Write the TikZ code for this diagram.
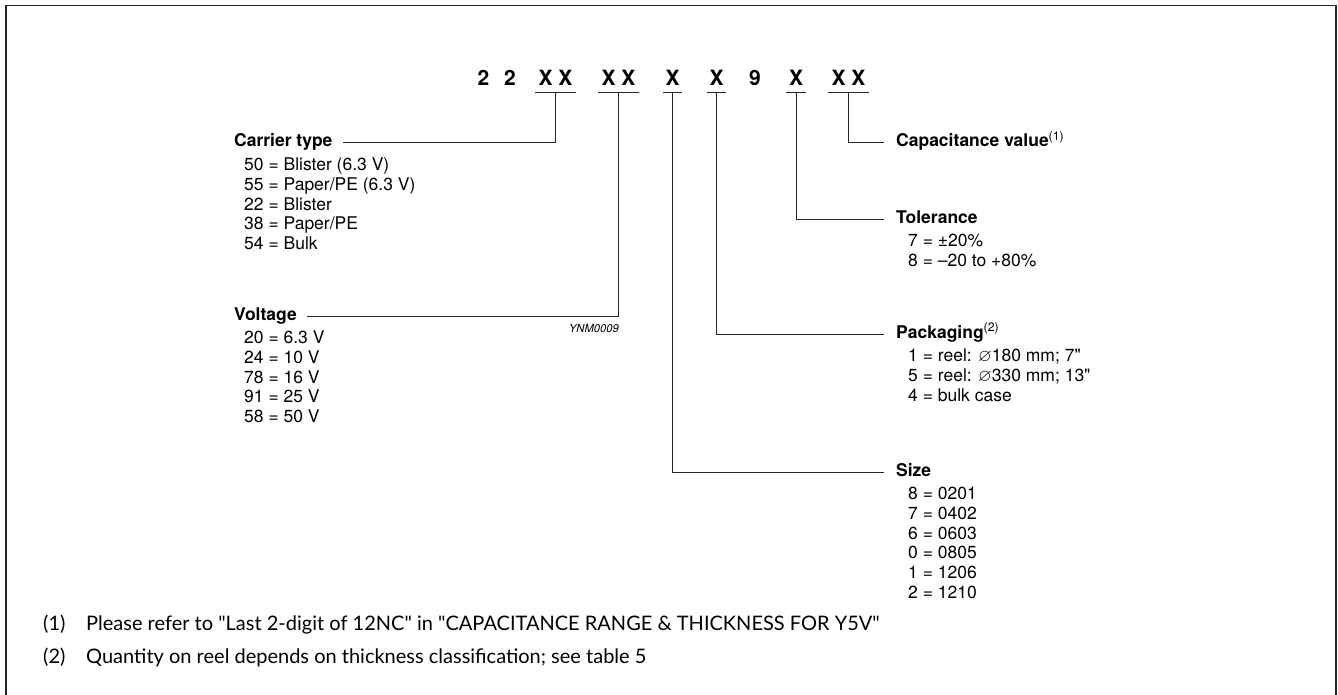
\documentclass[tikz,border=0pt]{standalone}
\usepackage{fontspec}
\usepackage{amssymb}
\setmainfont{TeX Gyre Heros}
\newfontfamily\notefont{Lato}
\usetikzlibrary{positioning}

\begin{document}
\begin{tikzpicture}[
    x=1pt, y=-1pt,
    code/.style={font=\bfseries\fontsize{21}{24}\selectfont, inner sep=0pt,
                 anchor=base, text depth=6pt},
    pair/.style={code, minimum width=41pt},
    single/.style={code, minimum width=19pt},
    head/.style={font=\bfseries\fontsize{17.5}{19.7}\selectfont, inner sep=0pt,
                 anchor=base west, text height=12pt, text depth=4pt},
    items/.style={font=\fontsize{17.5}{19.7}\selectfont, inner sep=0pt, align=left},
    wire/.style={draw=black!85, line width=1pt},
    note/.style={font=\notefont\fontsize{20}{22}\selectfont, inner sep=0pt, anchor=base west}
]
\useasboundingbox (0,0) rectangle (1338,695);

% Marco
\draw[line width=1.5pt, black!85] (6,695) -- (6,5.5) -- (1336,5.5) -- (1336,695);

% Codigo
\node[code] (n2a) at (483.5,86) {2};
\node[code] (n2b) at (510,86) {2};
\node[pair] (ncar) at (555.5,86) {X X};
\node[pair] (nvol) at (618.5,86) {X X};
\node[single] (nsiz) at (672.5,86) {X};
\node[single] (npak) at (716.5,86) {X};
\node[code] (n9) at (755,86) {9};
\node[single] (ntol) at (796,86) {X};
\node[pair] (ncap) at (848.5,86) {X X};

% Subrayados
\draw[wire] (ncar.south west) -- (ncar.south east);
\draw[wire] (nvol.south west) -- (nvol.south east);
\draw[wire] (nsiz.south west) -- (nsiz.south east);
\draw[wire] (npak.south west) -- (npak.south east);
\draw[wire] (ntol.south west) -- (ntol.south east);
\draw[wire] (ncap.south west) -- (ncap.south east);

% Lado izquierdo
\node[head] (car) at (234,147) {Carrier type};
\node[items, below right=5.7pt and 10pt of car.south west] (carl)
    {\strut 50 = Blister (6.3 V)\\55 = Paper/PE (6.3 V)\\22 = Blister\\38 = Paper/PE\\54 = Bulk};

\node[head] (vol) at (234,320) {Voltage};
\node[items, below right=5.7pt and 10pt of vol.south west] (voll)
    {\strut 20 = 6.3 V\\24 = 10 V\\78 = 16 V\\91 = 25 V\\58 = 50 V};

\node[font=\itshape\fontsize{11.2}{13}\selectfont, inner sep=0pt, anchor=base east] (ynm) at (619,332) {YNM0009};

% Lado derecho
\node[head] (cap) at (896,147) {Capacitance value\textsuperscript{\mdseries(1)}};

\node[head] (tol) at (896,223) {Tolerance};
\node[items, below right=5.7pt and 12pt of tol.south west] (toll)
    {\strut 7 = \textpm20\%\\8 = --20 to +80\%};

\node[head] (pak) at (896,338) {Packaging\textsuperscript{\mdseries(2)}};
\node[items, below right=5.7pt and 12pt of pak.south west] (pakl)
    {\strut 1 = reel: $\varnothing$180 mm; 7\textquotedbl\\5 = reel: $\varnothing$330 mm; 13\textquotedbl\\4 = bulk case};

\node[head] (siz) at (896,476) {Size};
\node[items, below right=5.7pt and 12pt of siz.south west] (sizl)
    {\strut 8 = 0201\\7 = 0402\\6 = 0603\\0 = 0805\\1 = 1206\\2 = 1210};

% Lineas
\draw[wire] (ncar.south) |- ([xshift=10pt]car.east);
\draw[wire] (nvol.south) |- ([xshift=10pt]vol.east);
\draw[wire] (ncap.south) |- ([xshift=-12pt]cap.west);
\draw[wire] (ntol.south) |- ([xshift=-12pt]tol.west);
\draw[wire] (npak.south) |- ([xshift=-12pt]pak.west);
\draw[wire] (nsiz.south) |- ([xshift=-12pt]siz.west);

% Notas
\node[note] (fn1) at (43,630) {\makebox[43pt][l]{(1)}Please refer to "Last 2-digit of 12NC" in "CAPACITANCE RANGE \& THICKNESS FOR Y5V"};
\node[note] (fn2) at (43,663) {\makebox[43pt][l]{(2)}Quantity on reel depends on thickness classification; see table 5};

\end{tikzpicture}
\end{document}
